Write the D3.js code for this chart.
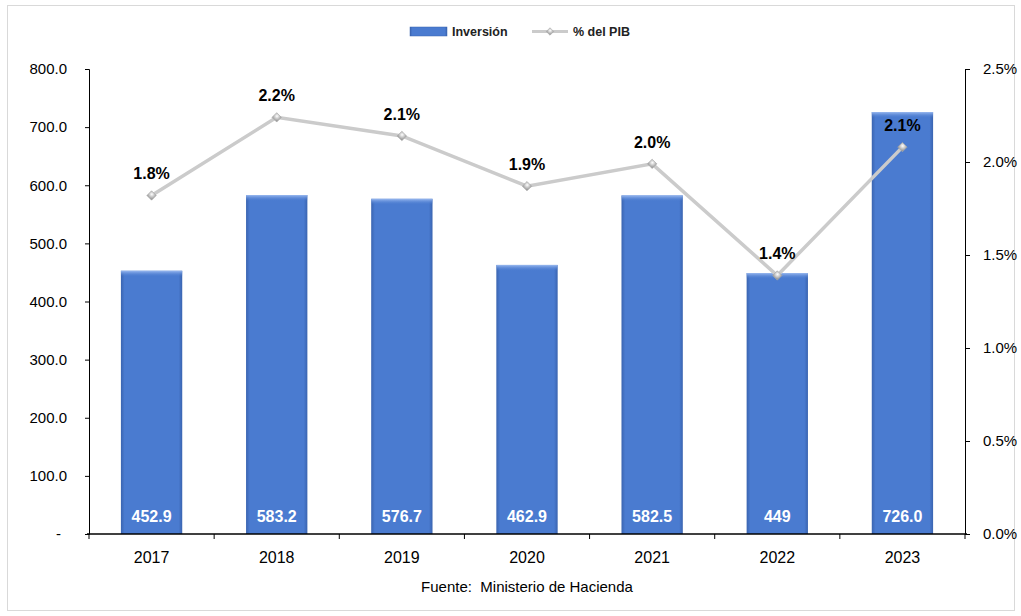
<!DOCTYPE html>
<html>
<head>
<meta charset="utf-8">
<script src="https://cdn.jsdelivr.net/npm/d3@7/dist/d3.min.js"></script>
<style>
  body { margin: 0; background: #fff; }
  svg { display: block; font-family: "Liberation Sans", Arial, sans-serif; }
</style>
</head>
<body>
<svg id="chart" width="1021" height="616"></svg>
<script>
const years = ["2017", "2018", "2019", "2020", "2021", "2022", "2023"];
const inversion = [452.9, 583.2, 576.7, 462.9, 582.5, 449, 726.0];
const inversionLabels = ["452.9", "583.2", "576.7", "462.9", "582.5", "449", "726.0"];
const pctPib = [1.82, 2.24, 2.14, 1.87, 1.99, 1.39, 2.08];
const leftTicks = [0, 100, 200, 300, 400, 500, 600, 700, 800];
const rightTicks = [0, 0.5, 1.0, 1.5, 2.0, 2.5];

const W = 1021, H = 616;
const m = { left: 89, right: 965, top: 69, bottom: 534 };
const svg = d3.select("#chart");

// gradients for the bevelled bars and the markers
const defs = svg.append("defs");
const bg = defs.append("linearGradient").attr("id", "barGrad").attr("x1", 0).attr("x2", 1).attr("y1", 0).attr("y2", 0);
bg.append("stop").attr("offset", "0%").attr("stop-color", "#3a64b0");
bg.append("stop").attr("offset", "6%").attr("stop-color", "#4a7bd0");
bg.append("stop").attr("offset", "94%").attr("stop-color", "#4a7bd0");
bg.append("stop").attr("offset", "100%").attr("stop-color", "#3a64b0");
const tg = defs.append("linearGradient").attr("id", "barTop").attr("x1", 0).attr("x2", 0).attr("y1", 0).attr("y2", 1);
tg.append("stop").attr("offset", "0%").attr("stop-color", "#9bbaf0");
tg.append("stop").attr("offset", "100%").attr("stop-color", "#4a7bd0").attr("stop-opacity", 0);
const mg = defs.append("radialGradient").attr("id", "markGrad").attr("cx", "40%").attr("cy", "35%").attr("r", "70%");
mg.append("stop").attr("offset", "0%").attr("stop-color", "#ffffff");
mg.append("stop").attr("offset", "100%").attr("stop-color", "#9a9a9a");

// outer frame
svg.append("rect").attr("x", 7.5).attr("y", 5.5).attr("width", W - 14).attr("height", H - 11)
  .attr("fill", "none").attr("stroke", "#d9d9d9");

const x = d3.scaleBand().domain(years).range([m.left, m.right]).paddingInner(0).paddingOuter(0);
const yL = d3.scaleLinear().domain([0, 800]).range([m.bottom, m.top]);
const yR = d3.scaleLinear().domain([0, 2.5]).range([m.bottom, m.top]);
const bw = x.bandwidth() * 0.49;

// bars
const bars = svg.append("g").selectAll("g").data(years).join("g");
bars.append("rect")
  .attr("x", (d, i) => x(d) + (x.bandwidth() - bw) / 2)
  .attr("y", (d, i) => yL(inversion[i]))
  .attr("width", bw)
  .attr("height", (d, i) => m.bottom - yL(inversion[i]))
  .attr("fill", "url(#barGrad)");
bars.append("rect")
  .attr("x", (d, i) => x(d) + (x.bandwidth() - bw) / 2)
  .attr("y", (d, i) => yL(inversion[i]))
  .attr("width", bw)
  .attr("height", 6)
  .attr("fill", "url(#barTop)");
bars.append("text")
  .attr("x", d => x(d) + x.bandwidth() / 2)
  .attr("y", 522)
  .attr("text-anchor", "middle")
  .attr("font-size", 16).attr("font-weight", "bold").attr("fill", "#fff")
  .text((d, i) => inversionLabels[i]);

// left axis
const axL = svg.append("g").attr("transform", `translate(${m.left},0)`)
  .call(d3.axisLeft(yL).tickValues(leftTicks).tickSize(4).tickPadding(18)
    .tickFormat(d => d === 0 ? "-" : d3.format(".1f")(d)));
axL.selectAll("text").attr("font-size", 15).attr("fill", "#000").attr("font-family", "Liberation Sans, Arial");
axL.select(".domain").attr("stroke", "#000");
axL.selectAll(".tick line").attr("stroke", "#000");
axL.selectAll(".tick").filter(d => d === 0).select("text").attr("dx", -6);

// right axis
const axR = svg.append("g").attr("transform", `translate(${m.right},0)`)
  .call(d3.axisRight(yR).tickValues(rightTicks).tickSize(5).tickPadding(13)
    .tickFormat(d => d.toFixed(1) + "%"));
axR.selectAll("text").attr("font-size", 15).attr("fill", "#000").attr("font-family", "Liberation Sans, Arial");
axR.select(".domain").attr("stroke", "#000");
axR.selectAll(".tick line").attr("stroke", "#000");

// x axis with ticks at category boundaries
const gx = svg.append("g").attr("transform", `translate(0,${m.bottom})`);
gx.append("line").attr("x1", m.left - 2).attr("x2", m.right + 2).attr("stroke", "#000").attr("stroke-width", 1.3);
gx.selectAll("line.b").data(years.concat(["end"])).join("line").attr("class", "b")
  .attr("x1", (d, i) => i < years.length ? x(d) : m.right)
  .attr("x2", (d, i) => i < years.length ? x(d) : m.right)
  .attr("y1", 0).attr("y2", 5).attr("stroke", "#000");
gx.selectAll("text").data(years).join("text")
  .attr("x", d => x(d) + x.bandwidth() / 2).attr("y", 29)
  .attr("text-anchor", "middle").attr("font-size", 16).attr("fill", "#000")
  .text(d => d);

// line series
const px = d => x(d) + x.bandwidth() / 2;
const line = d3.line().x((d, i) => px(years[i])).y(d => yR(d));
svg.append("path").datum(pctPib).attr("d", line)
  .attr("fill", "none").attr("stroke", "#cbcbcb").attr("stroke-width", 3.5);
svg.append("g").selectAll("path").data(pctPib).join("path")
  .attr("d", d3.symbol(d3.symbolSquare, 44))
  .attr("transform", (d, i) => `translate(${px(years[i])},${yR(d)}) rotate(45)`)
  .attr("fill", "url(#markGrad)").attr("stroke", "#a8a8a8").attr("stroke-width", 0.6);
svg.append("g").selectAll("text").data(pctPib).join("text")
  .attr("x", (d, i) => px(years[i]))
  .attr("y", d => yR(d) - 16)
  .attr("text-anchor", "middle").attr("font-size", 16).attr("font-weight", "bold").attr("fill", "#000")
  .text(d => d.toFixed(1) + "%");

// legend
const lg = svg.append("g").attr("font-size", 12.5).attr("font-weight", "bold").attr("fill", "#222");
lg.append("rect").attr("x", 410).attr("y", 27).attr("width", 37).attr("height", 9)
  .attr("fill", "url(#barGrad)").attr("stroke", "#3a64b0").attr("stroke-width", 0.5);
lg.append("text").attr("x", 452).attr("y", 36).text("Inversión");
lg.append("line").attr("x1", 532).attr("x2", 568).attr("y1", 31.5).attr("y2", 31.5)
  .attr("stroke", "#cbcbcb").attr("stroke-width", 3);
lg.append("path").attr("d", d3.symbol(d3.symbolSquare, 28))
  .attr("transform", "translate(550,31.5) rotate(45)").attr("fill", "url(#markGrad)").attr("stroke", "#a8a8a8").attr("stroke-width", 0.5);
lg.append("text").attr("x", 573).attr("y", 36).text("% del PIB");

// source
svg.append("text").attr("x", 527).attr("y", 592).attr("text-anchor", "middle")
  .attr("font-size", 15).attr("fill", "#000").style("white-space", "pre")
  .text("Fuente:  Ministerio de Hacienda");
</script>
</body>
</html>
